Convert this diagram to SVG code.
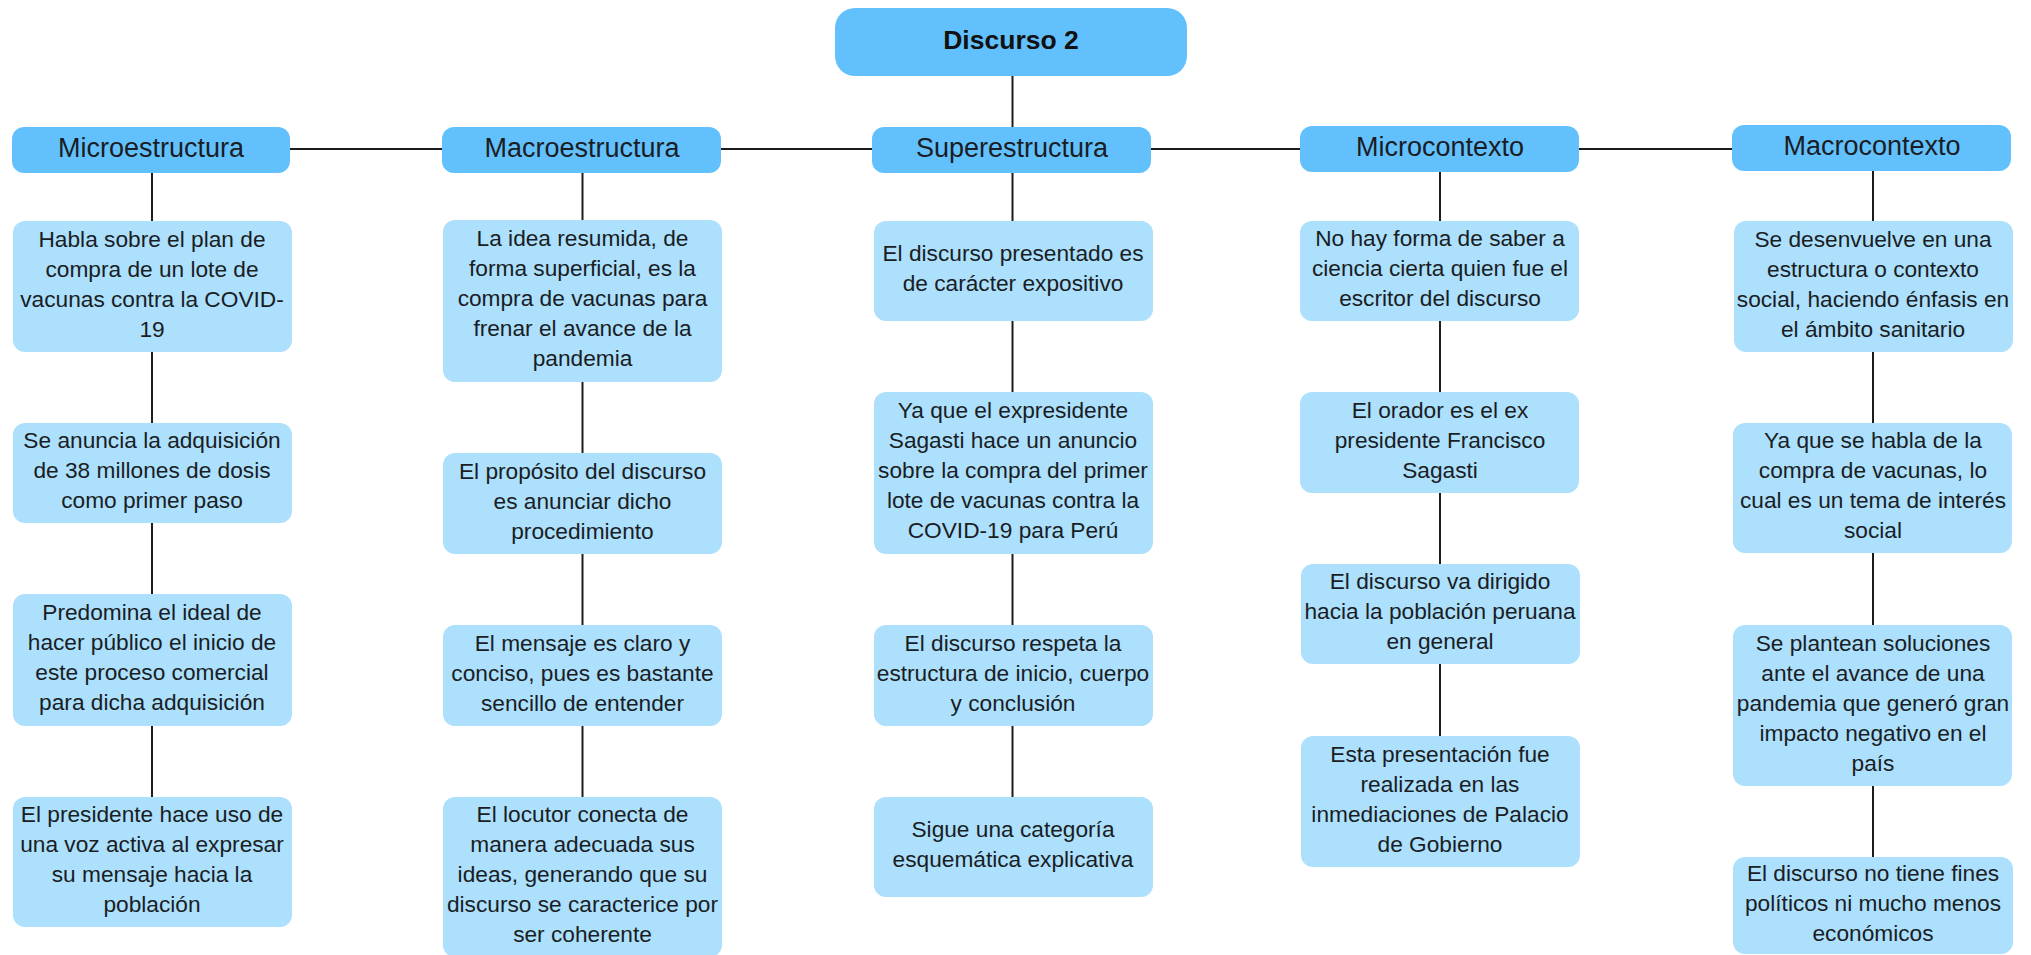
<svg xmlns="http://www.w3.org/2000/svg" width="2031" height="955" viewBox="0 0 2031 955">
<style>
.hd{fill:#62C1FC}
.bd{fill:#ACE0FC}
.t{font-family:"Liberation Sans",Arial,sans-serif;font-size:22.7px;fill:#1a1d24;text-anchor:middle}
.th{font-family:"Liberation Sans",Arial,sans-serif;font-size:27px;fill:#1a1d24;text-anchor:middle}
.tb{font-family:"Liberation Sans",Arial,sans-serif;font-size:26.5px;font-weight:bold;fill:#111;text-anchor:middle}
.c{stroke:#1c1c1c;stroke-width:2;fill:none}
</style>
<rect width="2031" height="955" fill="#ffffff"/>
<g id="connectors" class="c">
<line x1="290" y1="149" x2="1733" y2="149"/>
<line x1="1012.5" y1="76" x2="1012.5" y2="127"/>
<line x1="152" y1="173" x2="152" y2="221"/>
<line x1="152" y1="352" x2="152" y2="423"/>
<line x1="152" y1="523" x2="152" y2="594"/>
<line x1="152" y1="726" x2="152" y2="797"/>
<line x1="582.5" y1="173" x2="582.5" y2="220"/>
<line x1="582.5" y1="382" x2="582.5" y2="453"/>
<line x1="582.5" y1="554" x2="582.5" y2="625"/>
<line x1="582.5" y1="726" x2="582.5" y2="797"/>
<line x1="1012.5" y1="173" x2="1012.5" y2="221"/>
<line x1="1012.5" y1="321" x2="1012.5" y2="392"/>
<line x1="1012.5" y1="554" x2="1012.5" y2="625"/>
<line x1="1012.5" y1="726" x2="1012.5" y2="797"/>
<line x1="1440" y1="172" x2="1440" y2="221"/>
<line x1="1440" y1="321" x2="1440" y2="392"/>
<line x1="1440" y1="493" x2="1440" y2="564"/>
<line x1="1440" y1="664" x2="1440" y2="736"/>
<line x1="1873" y1="171" x2="1873" y2="221"/>
<line x1="1873" y1="352" x2="1873" y2="423"/>
<line x1="1873" y1="553" x2="1873" y2="625"/>
<line x1="1873" y1="786" x2="1873" y2="857"/>
</g>
<g id="root"><rect class="hd" x="835" y="8" width="352" height="68" rx="20"/><text class="tb" x="1011" y="49">Discurso 2</text></g>

<g id="h-micro"><rect class="hd" x="12" y="127" width="278" height="46" rx="12"/><text class="th" x="151" y="157">Microestructura</text></g>
<g id="h-macro"><rect class="hd" x="442" y="127" width="279" height="46" rx="12"/><text class="th" x="582" y="157">Macroestructura</text></g>
<g id="h-super"><rect class="hd" x="872" y="127" width="279" height="46" rx="12"/><text class="th" x="1012" y="157">Superestructura</text></g>
<g id="h-microc"><rect class="hd" x="1300" y="126" width="279" height="46" rx="12"/><text class="th" x="1440" y="156">Microcontexto</text></g>
<g id="h-macroc"><rect class="hd" x="1732" y="125" width="279" height="46" rx="12"/><text class="th" x="1872" y="155">Macrocontexto</text></g>

<g id="mi1"><rect class="bd" x="13" y="221" width="279" height="131" rx="12"/><text class="t"><tspan x="152" y="247">Habla sobre el plan de</tspan><tspan x="152" y="277">compra de un lote de</tspan><tspan x="152" y="307">vacunas contra la COVID-</tspan><tspan x="152" y="337">19</tspan></text></g>
<g id="mi2"><rect class="bd" x="13" y="423" width="279" height="100" rx="12"/><text class="t"><tspan x="152" y="448">Se anuncia la adquisición</tspan><tspan x="152" y="478">de 38 millones de dosis</tspan><tspan x="152" y="508">como primer paso</tspan></text></g>
<g id="mi3"><rect class="bd" x="13" y="594" width="279" height="132" rx="12"/><text class="t"><tspan x="152" y="620">Predomina el ideal de</tspan><tspan x="152" y="650">hacer público el inicio de</tspan><tspan x="152" y="680">este proceso comercial</tspan><tspan x="152" y="710">para dicha adquisición</tspan></text></g>
<g id="mi4"><rect class="bd" x="13" y="797" width="279" height="130" rx="12"/><text class="t"><tspan x="152" y="822">El presidente hace uso de</tspan><tspan x="152" y="852">una voz activa al expresar</tspan><tspan x="152" y="882">su mensaje hacia la</tspan><tspan x="152" y="912">población</tspan></text></g>

<g id="ma1"><rect class="bd" x="443" y="220" width="279" height="162" rx="12"/><text class="t"><tspan x="582.5" y="246">La idea resumida, de</tspan><tspan x="582.5" y="276">forma superficial, es la</tspan><tspan x="582.5" y="306">compra de vacunas para</tspan><tspan x="582.5" y="336">frenar el avance de la</tspan><tspan x="582.5" y="366">pandemia</tspan></text></g>
<g id="ma2"><rect class="bd" x="443" y="453" width="279" height="101" rx="12"/><text class="t"><tspan x="582.5" y="478.5">El propósito del discurso</tspan><tspan x="582.5" y="508.5">es anunciar dicho</tspan><tspan x="582.5" y="538.5">procedimiento</tspan></text></g>
<g id="ma3"><rect class="bd" x="443" y="625" width="279" height="101" rx="12"/><text class="t"><tspan x="582.5" y="650.5">El mensaje es claro y</tspan><tspan x="582.5" y="680.5">conciso, pues es bastante</tspan><tspan x="582.5" y="710.5">sencillo de entender</tspan></text></g>
<g id="ma4"><rect class="bd" x="443" y="797" width="279" height="160" rx="12"/><text class="t"><tspan x="582.5" y="822">El locutor conecta de</tspan><tspan x="582.5" y="852">manera adecuada sus</tspan><tspan x="582.5" y="882">ideas, generando que su</tspan><tspan x="582.5" y="912">discurso se caracterice por</tspan><tspan x="582.5" y="942">ser coherente</tspan></text></g>

<g id="su1"><rect class="bd" x="874" y="221" width="279" height="100" rx="12"/><text class="t"><tspan x="1013" y="261">El discurso presentado es</tspan><tspan x="1013" y="291">de carácter expositivo</tspan></text></g>
<g id="su2"><rect class="bd" x="874" y="392" width="279" height="162" rx="12"/><text class="t"><tspan x="1013" y="418">Ya que el expresidente</tspan><tspan x="1013" y="448">Sagasti hace un anuncio</tspan><tspan x="1013" y="478">sobre la compra del primer</tspan><tspan x="1013" y="508">lote de vacunas contra la</tspan><tspan x="1013" y="538">COVID-19 para Perú</tspan></text></g>
<g id="su3"><rect class="bd" x="874" y="625" width="279" height="101" rx="12"/><text class="t"><tspan x="1013" y="650.5">El discurso respeta la</tspan><tspan x="1013" y="680.5">estructura de inicio, cuerpo</tspan><tspan x="1013" y="710.5">y conclusión</tspan></text></g>
<g id="su4"><rect class="bd" x="874" y="797" width="279" height="100" rx="12"/><text class="t"><tspan x="1013" y="837">Sigue una categoría</tspan><tspan x="1013" y="867">esquemática explicativa</tspan></text></g>

<g id="mc1"><rect class="bd" x="1300" y="221" width="279" height="100" rx="12"/><text class="t"><tspan x="1440" y="246">No hay forma de saber a</tspan><tspan x="1440" y="276">ciencia cierta quien fue el</tspan><tspan x="1440" y="306">escritor del discurso</tspan></text></g>
<g id="mc2"><rect class="bd" x="1300" y="392" width="279" height="101" rx="12"/><text class="t"><tspan x="1440" y="417.5">El orador es el ex</tspan><tspan x="1440" y="447.5">presidente Francisco</tspan><tspan x="1440" y="477.5">Sagasti</tspan></text></g>
<g id="mc3"><rect class="bd" x="1301" y="564" width="279" height="100" rx="12"/><text class="t"><tspan x="1440" y="589">El discurso va dirigido</tspan><tspan x="1440" y="619">hacia la población peruana</tspan><tspan x="1440" y="649">en general</tspan></text></g>
<g id="mc4"><rect class="bd" x="1301" y="736" width="279" height="131" rx="12"/><text class="t"><tspan x="1440" y="761.5">Esta presentación fue</tspan><tspan x="1440" y="791.5">realizada en las</tspan><tspan x="1440" y="821.5">inmediaciones de Palacio</tspan><tspan x="1440" y="851.5">de Gobierno</tspan></text></g>

<g id="ac1"><rect class="bd" x="1734" y="221" width="279" height="131" rx="12"/><text class="t"><tspan x="1873" y="246.5">Se desenvuelve en una</tspan><tspan x="1873" y="276.5">estructura o contexto</tspan><tspan x="1873" y="306.5">social, haciendo énfasis en</tspan><tspan x="1873" y="336.5">el ámbito sanitario</tspan></text></g>
<g id="ac2"><rect class="bd" x="1733" y="423" width="279" height="130" rx="12"/><text class="t"><tspan x="1873" y="448">Ya que se habla de la</tspan><tspan x="1873" y="478">compra de vacunas, lo</tspan><tspan x="1873" y="508">cual es un tema de interés</tspan><tspan x="1873" y="538">social</tspan></text></g>
<g id="ac3"><rect class="bd" x="1733" y="625" width="279" height="161" rx="12"/><text class="t"><tspan x="1873" y="650.5">Se plantean soluciones</tspan><tspan x="1873" y="680.5">ante el avance de una</tspan><tspan x="1873" y="710.5">pandemia que generó gran</tspan><tspan x="1873" y="740.5">impacto negativo en el</tspan><tspan x="1873" y="770.5">país</tspan></text></g>
<g id="ac4"><rect class="bd" x="1733" y="857" width="280" height="97" rx="12"/><text class="t"><tspan x="1873" y="880.5">El discurso no tiene fines</tspan><tspan x="1873" y="910.5">políticos ni mucho menos</tspan><tspan x="1873" y="940.5">económicos</tspan></text></g>
</svg>
